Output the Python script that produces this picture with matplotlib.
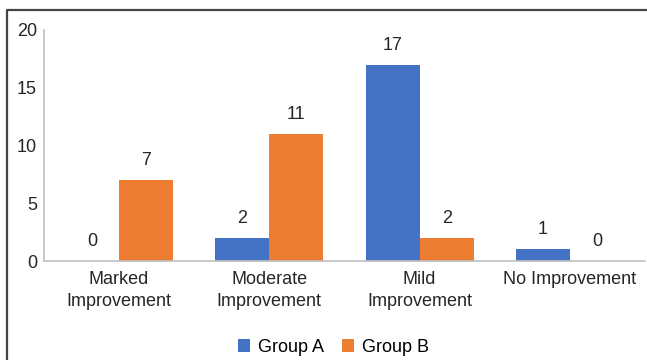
import matplotlib
matplotlib.use("Agg")
import matplotlib.pyplot as plt
from matplotlib.lines import Line2D
import numpy as np

categories = ["Marked\nImprovement", "Moderate\nImprovement", "Mild\nImprovement", "No Improvement"]
group_a = [0, 2, 17, 1]
group_b = [7, 11, 2, 0]
series_names = ["Group A", "Group B"]

BLUE, ORANGE, AXIS_GREY, TEXT = "#4472C4", "#ED7D31", "#bfbfbf", "#262626"
FS = 13

plt.rcParams["font.family"] = ["Liberation Sans", "DejaVu Sans"]

fig = plt.figure(figsize=(6.47, 3.6), dpi=100)
ax = fig.add_axes([44/647, 1-261/360, 601/647, 231/360])

x = np.arange(len(categories))
width = 0.36
for offset, values, colour, name in ((-width/2, group_a, BLUE, series_names[0]),
                                     (width/2, group_b, ORANGE, series_names[1])):
    bars = ax.bar(x+offset, values, width, color=colour, label=name)
    for bar, value in zip(bars, values):
        ax.annotate(f"{value}", (bar.get_x()+bar.get_width()/2, value),
                    xytext=(0, 8), textcoords="offset points",
                    ha="center", va="bottom", fontsize=FS, color=TEXT)

ax.set_xlim(-0.5, 3.5)
ax.set_ylim(0, 20)
ax.set_yticks([0, 5, 10, 15, 20])
ax.set_xticks(x)
ax.set_xticklabels(categories, fontsize=FS, color=TEXT, linespacing=1.4)
ax.tick_params(axis="y", length=0, labelsize=FS, labelcolor=TEXT, pad=5)
ax.tick_params(axis="x", length=0, pad=7)
for side in ("top", "right"):
    ax.spines[side].set_visible(False)
for side in ("left", "bottom"):
    ax.spines[side].set_color(AXIS_GREY)
    ax.spines[side].set_linewidth(1.2)

fig.legend(loc="center", bbox_to_anchor=(0.515, 1-347/360), ncol=2,
           frameon=False, fontsize=FS, handlelength=0.7, handleheight=0.7,
           handletextpad=0.4, columnspacing=1.0)

# outer frame: only the left and top edges are inside the picture
fig.add_artist(Line2D([7/647, 7/647, 1.0], [0.0, 1-10/360, 1-10/360],
                      transform=fig.transFigure, color="#444444", lw=1.6))

fig.savefig("out.png", dpi=100)
